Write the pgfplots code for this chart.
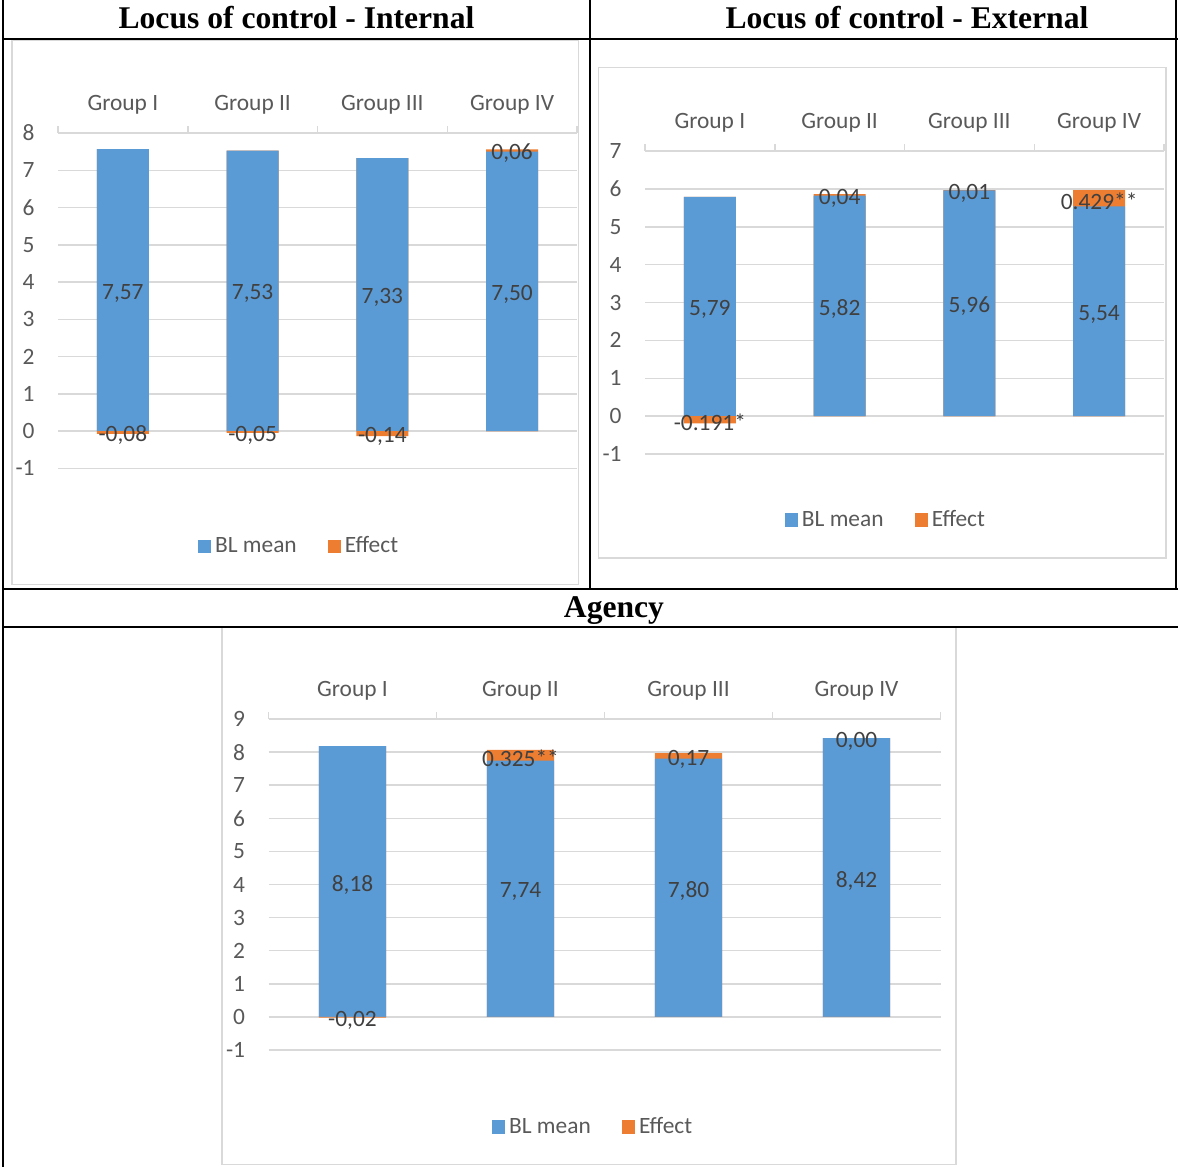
\documentclass[border=0pt]{standalone}
\usepackage{pgfplots}
\pgfplotsset{compat=1.18}
\usepackage{pgfplotstable}
\usepackage{fontspec}
\setmainfont{Carlito}
\newfontfamily\headfont{Liberation Serif}

\definecolor{blBlue}{HTML}{5B9BD5}
\definecolor{effOrange}{HTML}{ED7D31}
\definecolor{gridgray}{HTML}{D9D9D9}
\definecolor{axgray}{HTML}{595959}
\definecolor{lblgray}{HTML}{404040}

\newcommand{\chartfont}{\fontsize{11.7}{14}\selectfont}
\newcommand{\headsize}{\headfont\bfseries\fontsize{15.8}{18}\selectfont}

% baseline mean and effect per group
\pgfplotstableread{
x bl eff bllab efflab
1 7.57 -0.08 7,57 -0,08
2 7.53 -0.05 7,53 -0,05
3 7.33 -0.14 7,33 -0,14
4 7.50 0.06 7,50 0,06
}\tabInt

\pgfplotstableread{
x bl eff bllab efflab
1 5.79 -0.191 5,79 -0.191*
2 5.82 0.04 5,82 0,04
3 5.96 0.01 5,96 0,01
4 5.54 0.429 5,54 0.429**
}\tabExt

\pgfplotstableread{
x bl eff bllab efflab
1 8.18 -0.02 8,18 -0,02
2 7.74 0.325 7,74 0.325**
3 7.80 0.17 7,80 0,17
4 8.42 0.00 8,42 0,00
}\tabAg

\pgfplotsset{
  effchart/.style={
    scale only axis,
    anchor=south west,
    xmin=0.5, xmax=4.5,
    xtick={1,2,3,4},
    xticklabels={Group I, Group II, Group III, Group IV},
    minor xtick={0.5,1.5,2.5,3.5,4.5},
    axis x line*=top,
    axis y line*=left,
    y axis line style={draw=none},
    x axis line style={draw=gridgray, line width=0.75pt},
    major tick length=0pt,
    minor tick length=3.5pt,
    tick align=outside,
    major x tick style={draw=none},
    minor x tick style={draw=gridgray, line width=0.75pt},
    ytick style={draw=none},
    ymajorgrids,
    grid style={draw=gridgray, line width=0.75pt},
    ytick distance=1,
    tick label style={font=\chartfont, text=axgray},
    xticklabel style={anchor=base, yshift=11.5pt, inner sep=0pt},
    yticklabel style={anchor=east, inner sep=0pt, xshift=-11.5pt},
    /pgf/number format/assume math mode=true,
    clip=false,
    legend style={draw=none, fill=none, anchor=center, legend columns=2,
      font=\chartfont, text=axgray, inner sep=0pt,
      /tikz/every even column/.append style={column sep=13.5pt}},
    legend image code/.code={\fill[##1] (0pt,-3.3pt) rectangle (6.6pt,3.3pt);},
    every node near coord/.style={anchor=center, inner sep=0pt, yshift=-1.5pt,
      font=\chartfont, text=lblgray},
  },
}

% stacked bars: positive effects sit on the mean, negative ones hang below zero
\newcommand{\effbars}[1]{%
  \addplot [ybar, bar width=0.4, bar shift=0pt, fill=effOrange, draw=none, forget plot]
    table [x=x, y expr={\thisrow{bl}+max(\thisrow{eff},0)}] {#1};
  \addplot [ybar, bar width=0.4, bar shift=0pt, fill=blBlue, draw=none, forget plot]
    table [x=x, y=bl] {#1};
  \addplot [ybar, bar width=0.4, bar shift=0pt, fill=effOrange, draw=none, forget plot]
    table [x=x, y expr={min(\thisrow{eff},0)}] {#1};
  \addplot [draw=none, mark=none, forget plot, nodes near coords, point meta=explicit symbolic]
    table [x=x, y expr={\thisrow{bl}/2}, meta=bllab] {#1};
  \addplot [draw=none, mark=none, forget plot, nodes near coords, point meta=explicit symbolic]
    table [x=x, y expr={ifthenelse(\thisrow{eff}<0,\thisrow{eff}/2,\thisrow{bl}+\thisrow{eff}/2)}, meta=efflab] {#1};
  \addlegendimage{draw=none, fill=blBlue}\addlegendentry{BL mean}
  \addlegendimage{draw=none, fill=effOrange}\addlegendentry{Effect}
}

\begin{document}
\begin{tikzpicture}
\begin{scope}[x=0.5pt, y=-0.5pt]
\useasboundingbox (0,0) rectangle (1178,1167);

% chart frames
\draw[gridgray, line width=0.75pt] (12,40) rectangle (578.5,584.5);
\draw[gridgray, line width=0.75pt] (598.5,67.5) rectangle (1166,558);
\draw[gridgray, line width=0.75pt] (222,627) rectangle (956,1164.5);

% table rules
\draw[line width=1.2pt] (3,0) -- (3,1167);
\draw[line width=1.2pt] (590,0) -- (590,589);
\draw[line width=1.2pt] (1176,0) -- (1176,589);
\draw[line width=1.1pt] (3,39) -- (1178,39);
\draw[line width=1.1pt] (3,589) -- (1178,589);
\draw[line width=1.1pt] (3,627) -- (1178,627);

% headings
\node[anchor=base, font=\headsize] at (296.5,28) {Locus of control - Internal};
\node[anchor=base, font=\headsize] at (907,28) {Locus of control - External};
\node[anchor=base, font=\headsize] at (614,617) {Agency};
\end{scope}

\begin{axis}[effchart, at={(29pt,-234.125pt)}, width=259.5pt, height=167.6pt,
  ymin=-1, ymax=8, legend style={at={(0.4663,-0.2329)}}]
\effbars{\tabInt}
\end{axis}

\begin{axis}[effchart, at={(322.5pt,-227pt)}, width=259.5pt, height=151.5pt,
  ymin=-1, ymax=7, legend style={at={(0.466,-0.2178)}}]
\effbars{\tabExt}
\end{axis}

\begin{axis}[effchart, at={(134.25pt,-525pt)}, width=336pt, height=165.5pt,
  ymin=-1, ymax=9, legend style={at={(0.4844,-0.2326)}}]
\effbars{\tabAg}
\end{axis}
\end{tikzpicture}
\end{document}
